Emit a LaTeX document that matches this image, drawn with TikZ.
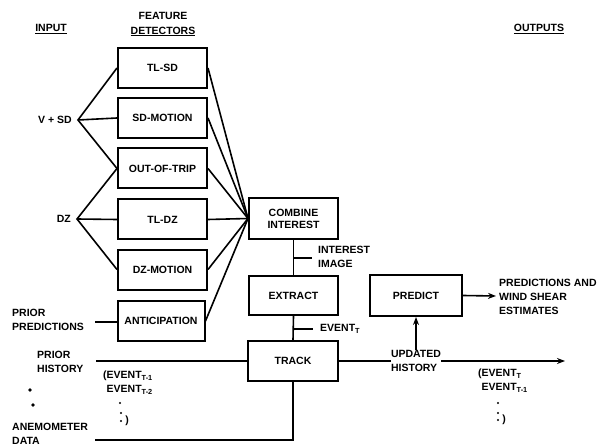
\documentclass[tikz,border=0pt]{standalone}
\usepackage{fontspec}
\setmainfont{Liberation Sans}
\usetikzlibrary{arrows.meta}
\begin{document}
\begin{tikzpicture}[x=1pt,y=-1pt,
  every node/.style={font=\fontsize{10.5}{12}\selectfont\bfseries, inner sep=0pt},
  blk/.style={draw, line width=2pt, minimum width=89pt, minimum height=40pt, align=center},
  wire/.style={line width=1.6pt},
  arr/.style={line width=1.6pt, -{Stealth[length=8pt,width=6pt]}},
  lbl/.style={align=left, font=\fontsize{10.5}{14}\selectfont\bfseries},
  hdr/.style={font=\fontsize{10.5}{15}\selectfont\bfseries, align=center}]
\useasboundingbox (0,0) rectangle (607,446);
% headers
\node[hdr] (hin) at (51,29) {\underline{INPUT}};
\node[hdr] (hfd) at (163,24) {FEATURE\\\underline{DETECTORS}};
\node[hdr] (hout) at (539,29) {\underline{OUTPUTS}};
% feature detector boxes
\node[blk] (tlsd) at (162.5,68) {TL-SD};
\node[blk] (sdm) at (162.5,118) {SD-MOTION};
\node[blk] (oot) at (162.5,168.5) {OUT-OF-TRIP};
\node[blk] (tldz) at (162.5,219.5) {TL-DZ};
\node[blk] (dzm) at (162.5,269.5) {DZ-MOTION};
\node[blk, minimum width=87pt] (ant) at (161,321) {ANTICIPATION};
% main chain
\node[blk, minimum height=41pt] (comb) at (293.5,218.5) {COMBINE\\INTEREST};
\node[blk, minimum height=39pt] (extr) at (293.5,295.5) {EXTRACT};
\node[blk, minimum width=90pt] (trk) at (293,361) {TRACK};
\node[blk, minimum width=92pt, minimum height=41pt] (pred) at (416,295.5) {PREDICT};
% inputs
\coordinate (vsd) at (78,120);
\node[anchor=east] (vsdl) at (72,120) {V + SD};
\coordinate (dz) at (77,219);
\node[anchor=east] (dzl) at (71,219) {DZ};
\draw[wire] (tlsd.west) -- (vsd) -- (oot.west);
\draw[wire] (vsd) -- (sdm.west);
\draw[wire] (oot.west) -- (dz) -- (dzm.west);
\draw[wire] (dz) -- (tldz.west);
% to combine
\foreach \b in {tlsd,sdm,oot,tldz,dzm,ant} \draw[wire] (\b.east) -- (comb.west);
% prior predictions
\node[lbl, anchor=west] (pp) at (12,320) {PRIOR\\PREDICTIONS};
\coordinate (ppe) at (95,322);
\draw[wire] (ppe) -- (ant.west |- ppe);
% combine -> extract
\draw[wire] (comb.south) -- (extr.north);
\coordinate (ii) at (293.5,258);
\coordinate (iie) at (312,258);
\draw[wire] (ii) -- (iie);
\node[lbl, anchor=west] (iil) at (318,257) {INTEREST\\IMAGE};
% extract -> track
\draw[wire] (extr.south) -- (trk.north);
\coordinate (ev) at (293.5,329);
\coordinate (eve) at (313,329);
\draw[wire] (ev) -- (eve);
\node[anchor=west] (evl) at (320,329) {EVENT\textsubscript{T}};
% prior history
\node[lbl, anchor=west] (ph) at (37,362) {PRIOR\\HISTORY};
\coordinate (phe) at (96,361);
\draw[wire] (phe) -- (trk.west);
\fill (30,390) circle (1.8pt);
\fill (33,405) circle (1.8pt);
% anemometer
\node[lbl, anchor=west] (an) at (12,434) {ANEMOMETER\\DATA};
\coordinate (ane) at (95,440);
\draw[wire] (ane) -| (trk.south);
% left event list
\node[lbl, anchor=north west] (el1) at (103,371) {(EVENT\textsubscript{T-1}\\\phantom{(}EVENT\textsubscript{T-2}};
\fill (120,403) circle (1.2pt);
\fill (121,413) circle (1.2pt);
\fill (121,421) circle (1.2pt);
\node (el2) at (127,421) {)};
% updated history
\node[lbl, align=left] (uh) at (416,361) {UPDATED\\HISTORY};
\draw[wire] (trk.east) -- (uh.west);
\coordinate (uhe) at (565,361);
\draw[arr] (uh.east) -- (uhe);
\draw[arr] (uh.north) -- (pred.south);
% right event list
\node[lbl, anchor=north west] (er1) at (478,369) {(EVENT\textsubscript{T}\\\phantom{(}EVENT\textsubscript{T-1}};
\fill (498,403) circle (1.2pt);
\fill (498,413) circle (1.2pt);
\fill (498,420) circle (1.2pt);
\node (er2) at (504,420) {)};
% outputs
\coordinate (pe) at (496,296);
\draw[arr] (pred.east) -- (pe);
\node[lbl, anchor=west] (out) at (499,297) {PREDICTIONS AND\\WIND SHEAR\\ESTIMATES};
\end{tikzpicture}
\end{document}
